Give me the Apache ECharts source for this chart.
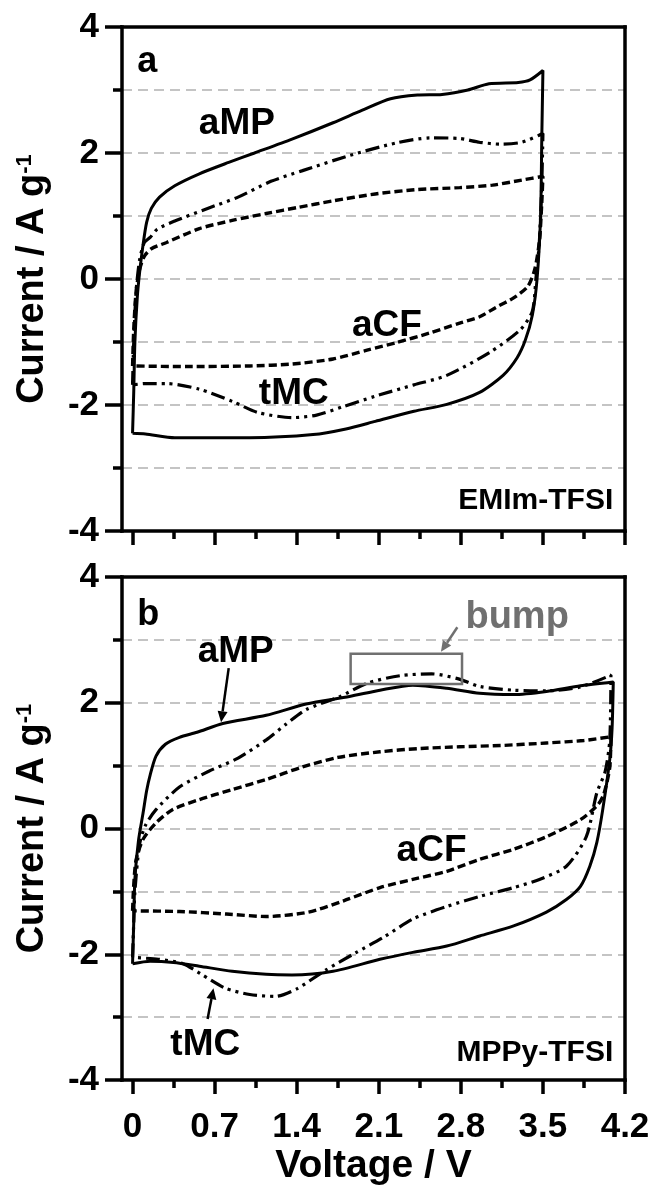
<!DOCTYPE html>
<html><head><meta charset="utf-8">
<script src="https://cdn.jsdelivr.net/npm/echarts@6/dist/echarts.min.js"></script>
<style>html,body{margin:0;padding:0;background:#fff}#c{width:654px;height:1187px}</style>
</head><body><div id="c"></div>
<script>
// ---------- axes ----------
const xMin = -0.09, xMax = 4.2;
const yMin = -4, yMax = 4;
const xMajorTicks = [0, 0.7, 1.4, 2.1, 2.8, 3.5, 4.2];
const xTickLabels = ['0', '0.7', '1.4', '2.1', '2.8', '3.5', '4.2'];
const xMinorTicks = [0.35, 1.05, 1.75, 2.45, 3.15, 3.85];

// ---------- panel a (EMIm-TFSI) : [V, I] ----------
const aMP_a = [[0,-2.45],[0.01,-1.8],[0.02,-1.0],[0.04,-0.3],[0.06,0.1],[0.09,0.55],[0.12,0.9],[0.16,1.12],[0.23,1.3],[0.36,1.48],[0.57,1.67],[0.82,1.85],[1.04,2.0],[1.36,2.22],[1.71,2.48],[1.96,2.68],[2.2,2.86],[2.43,2.92],[2.64,2.93],[2.86,3.0],[3.04,3.1],[3.29,3.12],[3.39,3.16],[3.5,3.31],
  [3.49,2.2],[3.48,1.0],[3.45,0.0],[3.41,-0.57],[3.35,-0.97],[3.28,-1.25],[3.16,-1.53],[2.96,-1.8],[2.68,-1.99],[2.4,-2.1],[2.07,-2.26],[1.82,-2.38],[1.54,-2.47],[1.0,-2.52],[0.36,-2.52],[0.11,-2.46],[0,-2.45]];
const tMC_a = [[0,-1.68],[0.01,-1.0],[0.03,-0.2],[0.06,0.3],[0.1,0.58],[0.15,0.66],[0.21,0.79],[0.36,0.92],[0.64,1.12],[0.9,1.3],[1.18,1.55],[1.45,1.72],[1.85,1.96],[2.25,2.16],[2.54,2.24],[2.79,2.23],[2.96,2.17],[3.14,2.14],[3.32,2.17],[3.5,2.31],
  [3.49,1.5],[3.47,0.6],[3.44,0.0],[3.41,-0.51],[3.31,-0.8],[3.05,-1.16],[2.68,-1.53],[2.4,-1.68],[2.07,-1.86],[1.79,-2.03],[1.57,-2.16],[1.36,-2.2],[1.07,-2.12],[0.86,-1.95],[0.57,-1.75],[0.29,-1.66],[0.11,-1.66],[0,-1.68]];
const aCF_a = [[0,-1.38],[0.01,-0.8],[0.03,-0.2],[0.06,0.15],[0.1,0.36],[0.16,0.48],[0.29,0.58],[0.57,0.8],[0.85,0.93],[1.14,1.04],[1.42,1.14],[1.71,1.24],[2.07,1.35],[2.43,1.42],[2.79,1.45],[3.07,1.49],[3.32,1.57],[3.5,1.63],
  [3.49,1.2],[3.47,0.6],[3.43,0.15],[3.37,-0.12],[3.25,-0.3],[3.1,-0.45],[2.96,-0.6],[2.79,-0.7],[2.53,-0.86],[2.25,-1.01],[2.0,-1.13],[1.71,-1.27],[1.36,-1.35],[1.0,-1.38],[0.46,-1.39],[0,-1.38]];

// ---------- panel b (MPPy-TFSI) : [V, I] ----------
const aMP_b = [[0,-2.15],[0.01,-1.5],[0.02,-0.8],[0.05,-0.2],[0.09,0.25],[0.12,0.6],[0.15,0.85],[0.2,1.15],[0.28,1.34],[0.4,1.45],[0.55,1.53],[0.77,1.67],[1.14,1.8],[1.48,1.98],[1.85,2.1],[2.11,2.2],[2.39,2.28],[2.68,2.23],[2.96,2.15],[3.25,2.13],[3.53,2.18],[3.82,2.27],[4.1,2.33],
  [4.09,1.6],[4.07,1.1],[4.01,0.3],[3.96,-0.22],[3.9,-0.6],[3.82,-0.92],[3.7,-1.13],[3.53,-1.33],[3.25,-1.55],[2.96,-1.71],[2.68,-1.87],[2.39,-1.97],[2.11,-2.08],[1.71,-2.27],[1.36,-2.33],[1.14,-2.32],[0.85,-2.27],[0.57,-2.19],[0.35,-2.13],[0.15,-2.11],[0,-2.15]];
const tMC_b = [[0,-2.05],[0.01,-1.5],[0.02,-1.0],[0.06,-0.25],[0.11,0.05],[0.2,0.3],[0.4,0.66],[0.65,0.91],[0.9,1.12],[1.14,1.41],[1.31,1.66],[1.48,1.89],[1.77,2.1],[2.0,2.31],[2.28,2.43],[2.55,2.46],[2.78,2.38],[2.96,2.26],[3.25,2.2],[3.53,2.19],[3.82,2.25],[4.08,2.44],
  [4.07,1.4],[4.03,0.9],[3.96,0.57],[3.87,-0.13],[3.7,-0.6],[3.47,-0.81],[3.25,-0.94],[2.96,-1.08],[2.68,-1.24],[2.39,-1.44],[2.15,-1.72],[1.9,-1.98],[1.65,-2.25],[1.4,-2.55],[1.22,-2.67],[1.0,-2.64],[0.79,-2.54],[0.58,-2.31],[0.43,-2.15],[0.22,-2.08],[0,-2.05]];
const aCF_b = [[0,-1.31],[0.01,-0.9],[0.03,-0.5],[0.09,-0.17],[0.2,0.09],[0.34,0.3],[0.57,0.46],[0.85,0.62],[1.14,0.78],[1.45,0.98],[1.75,1.13],[2.11,1.22],[2.43,1.27],[2.79,1.3],[3.14,1.32],[3.53,1.36],[3.85,1.4],[4.08,1.46],
  [4.07,0.97],[4.02,0.55],[3.97,0.38],[3.82,0.14],[3.53,-0.13],[3.25,-0.33],[2.96,-0.49],[2.68,-0.68],[2.39,-0.81],[2.11,-0.94],[1.8,-1.15],[1.5,-1.33],[1.14,-1.4],[0.8,-1.36],[0.4,-1.32],[0,-1.31]];

// ---------- annotations (data coordinates) ----------
const textsA = [
  {t:'a', v:[0.04,3.45], size:36, align:'left'},
  {t:'aMP', v:[0.89,2.47], size:37},
  {t:'aCF', v:[2.17,-0.74], size:37},
  {t:'tMC', v:[1.375,-1.82], size:37},
  {t:'EMIm-TFSI', v:[4.1,-3.52], size:30, align:'right'}
];
const textsB = [
  {t:'b', v:[0.04,3.4], size:36, align:'left'},
  {t:'bump', v:[3.28,3.36], size:38, color:'#707070'},
  {t:'aMP', v:[0.88,2.81], size:37},
  {t:'aCF', v:[2.55,-0.36], size:37},
  {t:'tMC', v:[0.62,-3.44], size:37},
  {t:'MPPy-TFSI', v:[4.1,-3.57], size:30, align:'right'}
];
const bumpBox = [[1.86,2.78],[2.81,2.30]];
const arrowsB = [
  {from:[0.82,2.55], to:[0.755,1.69], color:'#000'},
  {from:[0.64,-3.03], to:[0.69,-2.54], color:'#000'},
  {from:[2.77,3.2], to:[2.63,2.81], color:'#707070'}
];

const FONT = '"Liberation Sans", Arial, Helvetica, sans-serif';
const BLACK = '#000';
const GRIDC = '#c4c4c4';

function xAxesFor(g, showLabels) {
  return [
    {type:'value', gridIndex:g, min:xMin, max:xMax, position:'bottom',
      axisLine:{show:true, onZero:false, lineStyle:{color:BLACK, width:3.5, cap:'square'}},
      axisTick:{show:true, customValues:xMajorTicks, length:14, lineStyle:{color:BLACK, width:3.5}},
      axisLabel:{show:showLabels, customValues:xMajorTicks, margin:30,
        formatter:(v)=>{const i = xMajorTicks.findIndex(t=>Math.abs(t-v)<1e-6); return i>=0?xTickLabels[i]:'';},
        color:BLACK, fontSize:35, fontWeight:'bold', fontFamily:FONT},
      splitLine:{show:false},
      name: showLabels ? 'Voltage / V' : '', nameLocation:'middle', nameGap:67,
      nameTextStyle:{color:BLACK, fontSize:39, fontWeight:'bold', fontFamily:FONT}
    },
    {type:'value', gridIndex:g, min:xMin, max:xMax, position:'bottom',
      axisLine:{show:false, onZero:false},
      axisTick:{show:true, customValues:xMinorTicks, length:8, lineStyle:{color:BLACK, width:3.5}},
      axisLabel:{show:false}, splitLine:{show:false}
    },
    {type:'value', gridIndex:g, min:xMin, max:xMax, position:'top',
      axisLine:{show:true, onZero:false, lineStyle:{color:BLACK, width:3.5, cap:'square'}},
      axisTick:{show:false}, axisLabel:{show:false}, splitLine:{show:false}
    }
  ];
}
function yAxesFor(g) {
  const dash = {color:GRIDC, width:2, type:[10,6]};
  return [
    {type:'value', gridIndex:g, min:yMin, max:yMax, interval:2, position:'left',
      axisLine:{show:true, onZero:false, lineStyle:{color:BLACK, width:3.5, cap:'square'}},
      axisTick:{show:true, length:17, lineStyle:{color:BLACK, width:3.5}},
      minorTick:{show:true, splitNumber:2, length:9, lineStyle:{color:BLACK, width:3.5}},
      splitLine:{show:true, showMinLine:false, showMaxLine:false, lineStyle:dash},
      minorSplitLine:{show:true, lineStyle:dash},
      axisLabel:{color:BLACK, fontSize:35, fontWeight:'bold', fontFamily:FONT, margin:23},
      name:'Current / A g{sup|-1}', nameLocation:'middle', nameGap:70, nameRotate:90,
      nameTextStyle:{color:BLACK, fontSize:38, fontWeight:'bold', fontFamily:FONT,
        rich:{sup:{fontSize:22, fontWeight:'bold', fontFamily:FONT, color:BLACK, verticalAlign:'top', padding:[0,0,16,0]}}}
    },
    {type:'value', gridIndex:g, min:yMin, max:yMax, position:'right',
      axisLine:{show:true, onZero:false, lineStyle:{color:BLACK, width:3.5, cap:'square'}},
      axisTick:{show:false}, axisLabel:{show:false}, splitLine:{show:false}
    }
  ];
}

const SOLID = {color:BLACK, width:3, type:'solid'};
const DASHDOTDOT = {color:BLACK, width:3.2, type:[14,5,3,5,3,5], cap:'butt'};
const SHORTDASH = {color:BLACK, width:3.4, type:[8,4], cap:'butt'};

function lineSeries(data, xi, yi, style) {
  return {type:'line', data:data, xAxisIndex:xi, yAxisIndex:yi, showSymbol:false, symbol:'none',
    smooth:0.25, lineStyle:style, silent:true, z:3};
}

const chart = echarts.init(document.getElementById('c'), null, {renderer:'canvas', width:654, height:1187});
chart.setOption({
  animation:false,
  backgroundColor:'#fff',
  grid:[
    {left:122, right:29, top:27, height:504},
    {left:122, right:29, top:577, height:504}
  ],
  xAxis:[...xAxesFor(0,false), ...xAxesFor(1,true)],
  yAxis:[...yAxesFor(0), ...yAxesFor(1)],
  series:[
    lineSeries(aMP_a, 0, 0, SOLID),
    lineSeries(tMC_a, 0, 0, DASHDOTDOT),
    lineSeries(aCF_a, 0, 0, SHORTDASH),
    lineSeries(aMP_b, 3, 2, SOLID),
    lineSeries(tMC_b, 3, 2, DASHDOTDOT),
    lineSeries(aCF_b, 3, 2, SHORTDASH)
  ]
});

// annotations positioned through the chart's own coordinate conversion
const gfx = [];
function addTexts(list, seriesIndex) {
  list.forEach(o => {
    const p = chart.convertToPixel({seriesIndex}, o.v);
    gfx.push({type:'text', x:p[0], y:p[1], z:10, silent:true,
      style:{text:o.t, fill:o.color||BLACK, font:'bold '+o.size+'px '+FONT,
        textAlign:o.align||'center', textVerticalAlign:'middle'}});
  });
}
addTexts(textsA, 0);
addTexts(textsB, 3);
(function(){
  const p1 = chart.convertToPixel({seriesIndex:3}, bumpBox[0]);
  const p2 = chart.convertToPixel({seriesIndex:3}, bumpBox[1]);
  gfx.push({type:'rect', z:9, silent:true,
    shape:{x:p1[0], y:p1[1], width:p2[0]-p1[0], height:p2[1]-p1[1]},
    style:{fill:null, stroke:'#707070', lineWidth:2.5}});
})();
arrowsB.forEach(a => {
  const p1 = chart.convertToPixel({seriesIndex:3}, a.from);
  const p2 = chart.convertToPixel({seriesIndex:3}, a.to);
  const dx = p2[0]-p1[0], dy = p2[1]-p1[1];
  const L = Math.hypot(dx,dy), ux = dx/L, uy = dy/L;
  const hl = 11, hw = 5;
  const bx = p2[0]-ux*hl, by = p2[1]-uy*hl;
  gfx.push({type:'line', z:9, silent:true, shape:{x1:p1[0], y1:p1[1], x2:bx, y2:by},
    style:{stroke:a.color, lineWidth:2.5}});
  gfx.push({type:'polygon', z:9, silent:true,
    shape:{points:[[p2[0],p2[1]],[bx-uy*hw, by+ux*hw],[bx+uy*hw, by-ux*hw]]},
    style:{fill:a.color}});
});
chart.setOption({graphic:gfx});
</script>
</body></html>
